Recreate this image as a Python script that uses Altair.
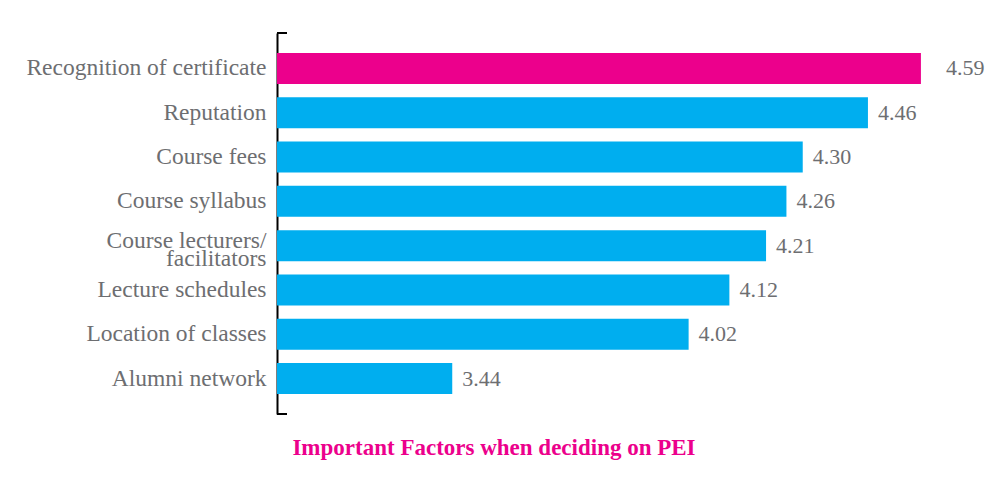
import altair as alt
import pandas as pd

factors = [
    "Recognition of certificate",
    "Reputation",
    "Course fees",
    "Course syllabus",
    "Course lecturers/ facilitators",
    "Lecture schedules",
    "Location of classes",
    "Alumni network",
]
scores = [4.59, 4.46, 4.30, 4.26, 4.21, 4.12, 4.02, 3.44]
groups = ["highlight", "other", "other", "other", "other", "other", "other", "other"]

GRAY = "#6d6e71"
MAGENTA = "#EC008C"
CYAN = "#00AEEF"
FONT = "Liberation Serif"
W, H = 648, 381

df = pd.DataFrame({"factor": factors, "score": scores, "group": groups})

y = alt.Y(
    "factor:N",
    sort=factors,
    title=None,
    scale=alt.Scale(paddingInner=0.3, paddingOuter=0.45),
    axis=alt.Axis(
        labelFont=FONT,
        labelFontSize=23.5,
        labelColor=GRAY,
        labelPadding=11,
        ticks=False,
        domainColor="black",
        domainWidth=2,
        labelLimit=0,
        labelLineHeight=18,
        labelOffset={
            "condition": {"test": "datum.label == 'Course lecturers/ facilitators'", "value": -5},
            "value": 0,
        },
        labelExpr="datum.label == 'Course lecturers/ facilitators' ? ['Course lecturers/', 'facilitators'] : datum.label",
    ),
)
x = alt.X(
    "score:Q",
    scale=alt.Scale(domain=[3.01, 4.6], zero=False, nice=False, clamp=True),
    axis=None,
)

base = alt.Chart(df)

bars = base.mark_bar().encode(
    x=x,
    y=y,
    color=alt.Color(
        "group:N",
        scale=alt.Scale(domain=["highlight", "other"], range=[MAGENTA, CYAN]),
        legend=None,
    ),
)

txt_other = base.transform_filter(alt.datum.group == "other").mark_text(
    align="left", baseline="middle", dx=10, font=FONT, fontSize=22, color=GRAY
).encode(x=x, y=y, text=alt.Text("score:Q", format=".2f"))

txt_high = base.transform_filter(alt.datum.group == "highlight").mark_text(
    align="left", baseline="middle", dx=25, font=FONT, fontSize=22, color=GRAY
).encode(x=x, y=y, text=alt.Text("score:Q", format=".2f"))

one = alt.Data(values=[{"k": 1}])
tick_top = alt.Chart(one).mark_rule(color="black", strokeWidth=2).encode(
    x=alt.value(0), x2=alt.value(10), y=alt.value(0)
)
tick_bot = alt.Chart(one).mark_rule(color="black", strokeWidth=2).encode(
    x=alt.value(0), x2=alt.value(10), y=alt.value(H)
)

chart = alt.layer(bars, txt_other, txt_high, tick_top, tick_bot).properties(
    width=W,
    height=H,
    padding={"left": 269, "top": 25, "right": 73, "bottom": 59},
    autosize=alt.AutoSizeParams(type="none"),
    background="white",
    title=alt.TitleParams(
        "Important Factors when deciding on PEI",
        orient="bottom",
        anchor="middle",
        frame="group",
        dx=-107,
        offset=22,
        font=FONT,
        fontSize=23,
        fontWeight="bold",
        color=MAGENTA,
    ),
).configure_view(stroke=None)

chart.save("out.html", embed_options={"renderer": "svg", "actions": False})
